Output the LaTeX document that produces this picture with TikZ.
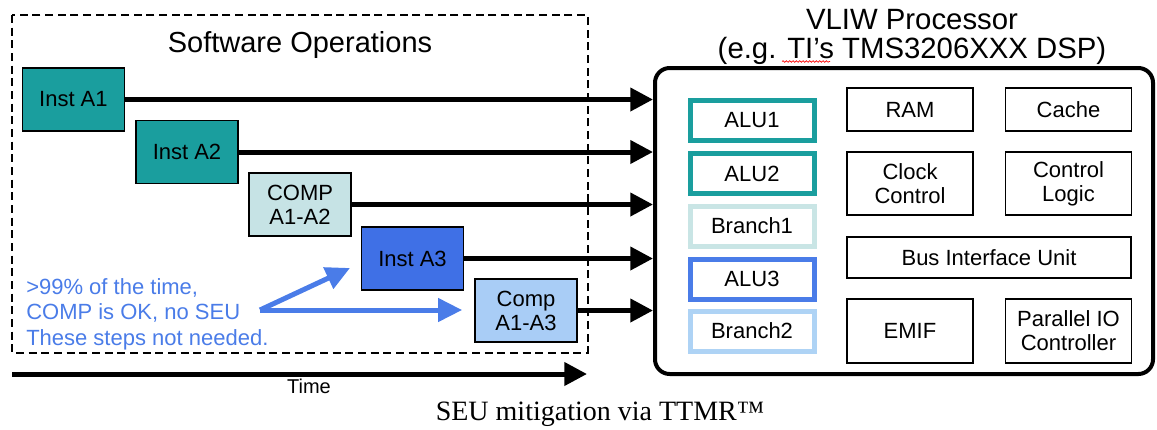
\documentclass[tikz,border=0pt]{standalone}
\usepackage{fontspec}
\setmainfont{Liberation Sans}
\newfontfamily\capfont{Liberation Serif}
\usetikzlibrary{arrows.meta,decorations.pathmorphing}

\definecolor{instteal}{HTML}{1A9E9E}
\definecolor{compteal}{HTML}{C6E3E5}
\definecolor{instblue}{HTML}{3F70E6}
\definecolor{compblue}{HTML}{A9CDF6}
\definecolor{branchteal}{HTML}{C9E5E5}
\definecolor{branchblue}{HTML}{AED3F5}
\definecolor{seublue}{HTML}{4A7CE8}

\tikzset{
  opbox/.style={draw=black, line width=1.2pt, minimum width=76.5pt, minimum height=47.25pt,
    inner sep=0pt, align=center, font=\fontsize{16.5}{18}\selectfont},
  unitbox/.style={draw=#1, line width=3.75pt, fill=white, minimum width=93pt, minimum height=30pt,
    inner sep=0pt, font=\fontsize{16.5}{18}\selectfont},
  blockbox/.style={draw=black, line width=1.2pt, minimum width=94.5pt, inner sep=0pt,
    align=center, font=\fontsize{16.5}{18}\selectfont},
  feed/.style={line width=3.75pt, -{Triangle[length=17pt,width=17pt]}},
  seuarrow/.style={draw=seublue, line width=3.75pt, -{Triangle[length=18pt,width=17pt]}},
}

\begin{document}
\begin{tikzpicture}[x=0.75pt,y=-0.75pt]
  \useasboundingbox (0,0) rectangle (1157,429);
  % software side
  \draw[line width=1.3pt, dash pattern=on 6pt off 3.5pt] (11.7,15) rectangle (587.7,352.7);
  \node[anchor=base, font=\fontsize{21.75}{22}\selectfont] (swtitle) at (300,52) {Software Operations};
  \node[opbox, fill=instteal] (instA1) at (73.4,99.5) {Inst A1};
  \node[opbox, fill=instteal] (instA2) at (187,152) {Inst A2};
  \node[opbox, fill=compteal] (compAB) at (300,204.5) {COMP\\A1-A2};
  \node[opbox, fill=instblue] (instA3) at (412.5,258.5) {Inst A3};
  \node[opbox, fill=compblue] (compAC) at (526,310.5) {Comp\\A1-A3};
  % note on the skipped steps
  \node[anchor=base west, align=left, text=seublue, inner sep=0pt,
    font=\fontsize{16.5}{19}\selectfont] (seunote) at (26,345)
    {>99\% of the time,\\COMP is OK, no SEU\\These steps not needed.};
  \coordinate (fork) at (260,310);
  \coordinate (forktip) at (350,268);
  \draw[seuarrow] (fork) -- (forktip);
  \draw[seuarrow] (fork) -- ([xshift=-9pt]fork -| compAC.west);
  % time axis
  \coordinate (t0) at (12,374);
  \coordinate (t1) at (587,374);
  \draw[feed] (t0) -- (t1);
  \node[anchor=base, font=\fontsize{15}{16}\selectfont] (timelabel) at (309,393) {Time};
  % the processor
  \node[draw, line width=3pt, rounded corners=11pt, minimum width=373.5pt, minimum height=229.5pt] (cpu) at (904,221) {};
  \node[anchor=base, font=\fontsize{22}{21.75}\selectfont] (cputitle1) at (912,29) {VLIW Processor};
  \node[anchor=base, font=\fontsize{22}{21.75}\selectfont] (cputitle2) at (912,58) {(e.g. TI’s TMS3206XXX DSP)};
  \draw[red, line width=0.5pt, decorate, decoration={snake, amplitude=0.6pt, segment length=2.5pt}] (782,61.5) -- (830,61.5);
  % execution units
  \node[unitbox=instteal] (alu1) at (752,120.5) {ALU1};
  \node[unitbox=instteal] (alu2) at (752,173.5) {ALU2};
  \node[unitbox=branchteal] (branch1) at (752,226) {Branch1};
  \node[unitbox=seublue] (alu3) at (752,279) {ALU3};
  \node[unitbox=branchblue] (branch2) at (752,331) {Branch2};
  % other blocks
  \node[blockbox, minimum height=32.25pt] (ram) at (910,109.5) {RAM};
  \node[blockbox, minimum height=32.25pt] (cache) at (1068.5,109.5) {Cache};
  \node[blockbox, minimum height=47.25pt] (clock) at (910,183.5) {Clock\\Control};
  \node[blockbox, minimum height=47.25pt] (ctrl) at (1068.5,183.5) {Control\\Logic};
  \node[blockbox, minimum width=213pt, minimum height=30.75pt] (biu) at (989,257.5) {Bus Interface Unit};
  \node[blockbox, minimum height=48pt] (emif) at (910,331) {EMIF};
  \node[blockbox, minimum height=48pt] (pio) at (1068.5,331) {Parallel IO\\Controller};
  % feeds into the processor
  \foreach \op in {instA1,instA2,compAB,instA3,compAC}
    \draw[feed] (\op.east) -- (\op.east -| cpu.west);
  % caption
  \node[anchor=base, font=\capfont\fontsize{21}{22}\selectfont] (caption) at (600,420) {SEU mitigation via TTMR™};
\end{tikzpicture}
\end{document}
